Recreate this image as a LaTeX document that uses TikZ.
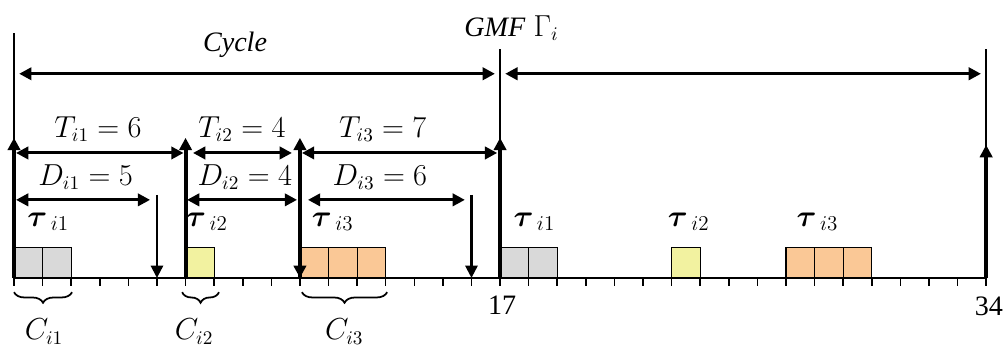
\documentclass[tikz,border=0pt]{standalone}
\usepackage{amsmath}
\usepackage{fontspec}
\setmainfont{Liberation Serif}
\usetikzlibrary{arrows.meta,decorations.pathreplacing}

\definecolor{jobgray}{RGB}{217,217,217}
\definecolor{jobyellow}{RGB}{242,242,160}
\definecolor{joborange}{RGB}{250,200,150}

\tikzset{
  release/.style={line width=2.3pt, -{Triangle[length=7pt,width=7pt]}},
  deadline/.style={line width=1.2pt, -{Triangle[length=7pt,width=7pt]}},
  span/.style={line width=1.7pt, {Triangle[length=7pt,width=7pt]}-{Triangle[length=7pt,width=7pt]}},
  marker/.style={line width=1.1pt},
  slot/.style={draw, line width=0.6pt},
  lbl/.style={font=\fontsize{16}{19}\selectfont, inner sep=1pt},
  tasklbl/.style={font=\fontsize{18}{21}\selectfont, inner sep=1pt},
  cbrace/.style={decorate, decoration={brace, mirror, amplitude=6pt}, line width=1pt}
}

\begin{document}
\begin{tikzpicture}[x=0.5718cm, y=0.5718cm]
    \useasboundingbox (-0.49,-2.52) rectangle (34.59,9.72);

    % Jobs of both cycles, one box per time unit
    \foreach \a/\n/\c in {0/2/jobgray, 6/1/jobyellow, 10/3/joborange,
                          17/2/jobgray, 23/1/jobyellow, 27/3/joborange} {
        \foreach \k in {1,...,\n}
            \draw[slot, fill=\c] ({\a+\k-1},0) rectangle ++(1,1.08);
    }

    % Time axis
    \draw[line width=0.9pt] (0,0) -- (34,0);
    \foreach \t in {0,...,34}
        \draw[line width=0.9pt] (\t,0) -- (\t,-0.3);
    \node[lbl] (n17) at (17.07,-0.95) {17};
    \node[lbl] (n34) at (34.1,-1.0) {34};

    % Cycle borders
    \draw[marker] (0,0) -- (0,8.57);
    \draw[marker] (17,0) -- (17,8.0);
    \draw[marker] (34,0) -- (34,8.0);
    \draw[span] (0.18,7.14) -- (16.82,7.14);
    \draw[span] (17.18,7.14) -- (33.82,7.14);
    \node[lbl] (cycle) at (7.73,8.15) {\textit{Cycle}};
    \node[lbl] (gmf) at (17.4,8.74) {$\mathit{GMF}\;\Gamma_i$};

    % Releases and deadlines
    \foreach \t in {0,6,10,17}
        \draw[release] (\t,0) -- (\t,4.9);
    \draw[release] (34,0) -- (34,4.65);
    \draw[release] (10,4.6) -- (10,0);
    \draw[deadline] (5,2.9) -- (5,0);
    \draw[deadline] (16,2.9) -- (16,0);

    % Periods
    \draw[span] (0.07,4.37) -- (5.93,4.37);
    \draw[span] (6.26,4.37) -- (9.72,4.37);
    \draw[span] (10.07,4.37) -- (16.9,4.37);
    \node[lbl] (t1) at (2.94,5.2) {$T_{i1}=6$};
    \node[lbl] (t2) at (7.97,5.2) {$T_{i2}=4$};
    \node[lbl] (t3) at (12.9,5.2) {$T_{i3}=7$};

    % Deadlines
    \draw[span] (0.07,2.73) -- (4.76,2.73);
    \draw[span] (6.05,2.73) -- (9.9,2.73);
    \draw[span] (10.28,2.73) -- (15.77,2.73);
    \node[lbl] (d1) at (2.5,3.52) {$D_{i1}=5$};
    \node[lbl] (d2) at (8.07,3.52) {$D_{i2}=4$};
    \node[lbl] (d3) at (12.8,3.52) {$D_{i3}=6$};

    % Task names
    \node[tasklbl] (a1) at (1.2,1.96) {$\boldsymbol{\tau}_{\,i1}$};
    \node[tasklbl] (a2) at (6.75,1.96) {$\boldsymbol{\tau}_{\,i2}$};
    \node[tasklbl] (a3) at (11.15,1.96) {$\boldsymbol{\tau}_{\,i3}$};
    \node[tasklbl] (b1) at (18.2,1.96) {$\boldsymbol{\tau}_{\,i1}$};
    \node[tasklbl] (b2) at (23.6,1.96) {$\boldsymbol{\tau}_{\,i2}$};
    \node[tasklbl] (b3) at (28.1,1.96) {$\boldsymbol{\tau}_{\,i3}$};

    % Execution times
    \draw[cbrace] (0,-0.5) -- (2.03,-0.5);
    \draw[cbrace] (5.88,-0.5) -- (7.17,-0.5);
    \draw[cbrace] (10.07,-0.5) -- (13.05,-0.5);
    \node[lbl] (c1) at (1.05,-1.88) {$C_{i1}$};
    \node[lbl] (c2) at (6.3,-1.88) {$C_{i2}$};
    \node[lbl] (c3) at (11.55,-1.88) {$C_{i3}$};
\end{tikzpicture}
\end{document}
